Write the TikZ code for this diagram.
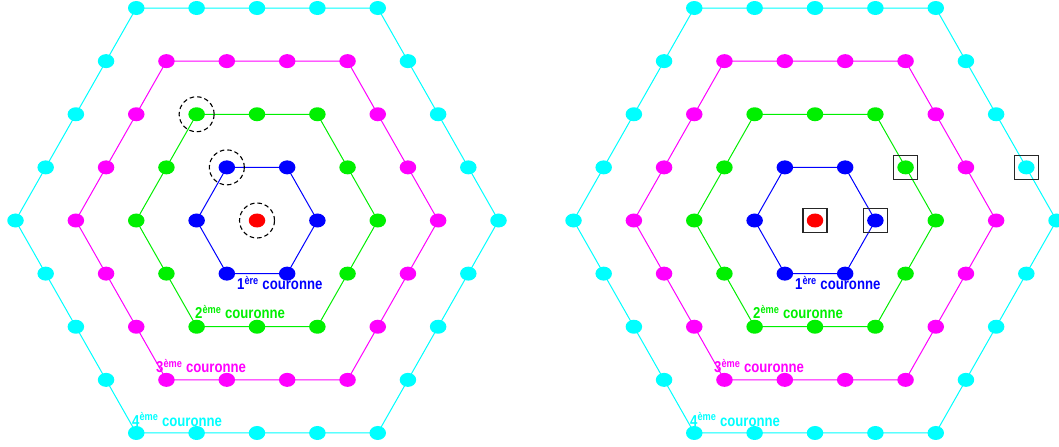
\documentclass[tikz,border=0pt]{standalone}
\usepackage{fontspec}
\newfontfamily\labfont{Liberation Sans}
\usetikzlibrary{shapes.geometric}
\pgfdeclarelayer{background}
\pgfsetlayers{background,main}
\definecolor{cR}{RGB}{255,0,0}
\definecolor{cA}{RGB}{0,0,255}
\definecolor{cB}{RGB}{0,240,0}
\definecolor{cC}{RGB}{255,0,255}
\definecolor{cD}{RGB}{0,255,255}
\newcommand\ringlabel[2]{\scalebox{1}[1.2]{#1\textsuperscript{#2} couronne}}
\tikzset{
  dot/.style={ellipse, minimum width=16.5bp, minimum height=14bp, inner sep=0pt, draw=none, fill=#1},
  ring/.style={draw=#1, line width=1bp},
  lab/.style={font=\labfont\bfseries\fontsize{13.2}{15}\selectfont, anchor=base west, inner sep=0pt, text=#1},
  dcirc/.style={circle, draw=black, dash pattern=on 4.5bp off 3bp, line width=1.1bp, minimum size=35bp, inner sep=0pt},
  sqbox/.style={rectangle, draw=black!85, line width=1.4bp, minimum size=24bp, inner sep=0pt}
}
\newcommand\hexlattice[2]{%
  \begin{scope}[shift={(#2bp,-220.5bp)}, x=60.375bp, y=61.34bp]
    \node[dot=cR] (#1-0) at (0,0) {};
    \foreach \n/\rc in {1/cA,2/cB,3/cC,4/cD}{
      \pgfmathtruncatemacro\m{\n-1}
      \foreach \k in {0,...,5}{
        \foreach \j in {0,...,\m}{
          \node[dot=\rc] (#1\n-\k-\j) at ({\n*cos(60*\k)+\j*(cos(60*\k+60)-cos(60*\k))},{\n*sin(60*\k)+\j*(sin(60*\k+60)-sin(60*\k))}) {};
        }
      }
      \begin{pgfonlayer}{background}
        \draw[ring=\rc] (#1\n-0-0.center) -- (#1\n-1-0.center) -- (#1\n-2-0.center) -- (#1\n-3-0.center) -- (#1\n-4-0.center) -- (#1\n-5-0.center) -- cycle;
      \end{pgfonlayer}
    }
  \end{scope}}
\begin{document}
\begin{tikzpicture}[x=1bp, y=-1bp]
  \useasboundingbox (0,0) rectangle (1059,447);
  \hexlattice{L}{257}
  \hexlattice{R}{815}
  % left labels
  \node[lab=cA] (La1) at (237,290) {\ringlabel{1}{ère}};
  \node[lab=cB] (La2) at (195,319) {\ringlabel{2}{ème}};
  \node[lab=cC] (La3) at (156,372.5) {\ringlabel{3}{ème}};
  \node[lab=cD] (La4) at (132,426) {\ringlabel{4}{ème}};
  % right labels
  \node[lab=cA] (Ra1) at (795,290) {\ringlabel{1}{ère}};
  \node[lab=cB] (Ra2) at (753,319) {\ringlabel{2}{ème}};
  \node[lab=cC] (Ra3) at (714,372.5) {\ringlabel{3}{ème}};
  \node[lab=cD] (Ra4) at (690,426) {\ringlabel{4}{ème}};
  % dashed circles (left)
  \node[dcirc] (Lc0) at (L-0) {};
  \node[dcirc] (Lc1) at (L1-2-0) {};
  \node[dcirc] (Lc2) at (L2-2-0) {};
  % squares (right)
  \node[sqbox] (Rs0) at (R-0) {};
  \node[sqbox] (Rs1) at (R1-0-0) {};
  \node[sqbox] (Rs2) at (R2-0-1) {};
  \node[sqbox] (Rs4) at (R4-0-1) {};
\end{tikzpicture}
\end{document}
